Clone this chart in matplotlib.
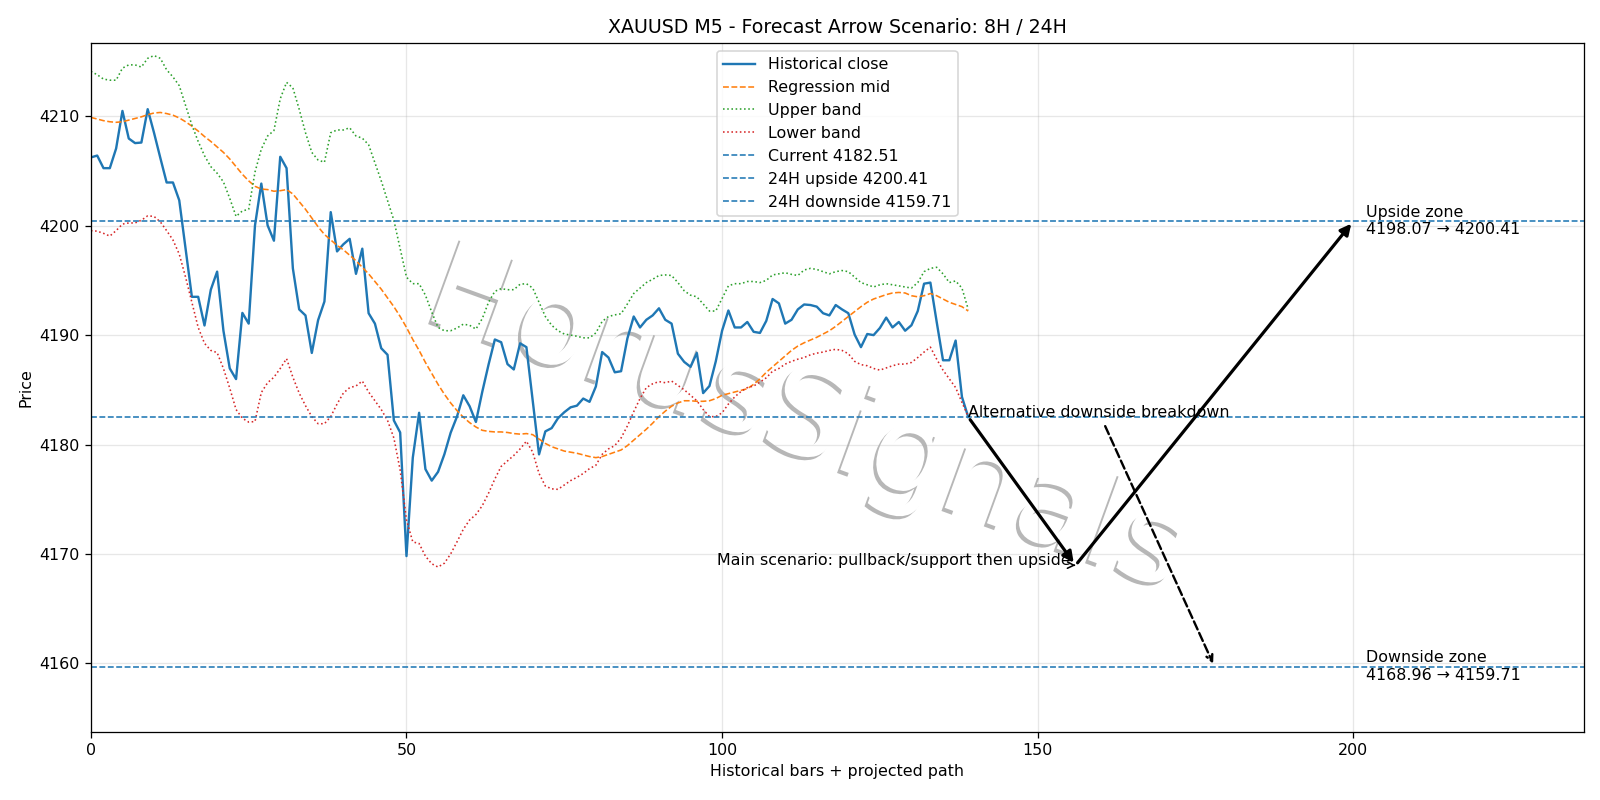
import matplotlib
matplotlib.use("Agg")
import matplotlib.pyplot as plt
import matplotlib.patheffects as pe
import numpy as np

# historical M5 closes (bars 0..139)
close = [4206.24, 4206.41, 4205.26, 4205.26, 4207.06, 4210.49, 4207.97, 4207.55, 4207.6, 4210.65,
         4208.5, 4206.2, 4203.95, 4203.95, 4202.32, 4197.9, 4193.5, 4193.5, 4190.88, 4194.15,
         4195.8, 4190.4, 4186.96, 4185.98, 4192.03, 4191.05, 4200.03, 4203.85, 4200.03, 4198.63,
         4206.3, 4205.26, 4196.1, 4192.35, 4191.8, 4188.37, 4191.37, 4193.07, 4201.24, 4197.65,
         4198.3, 4198.8, 4195.6, 4197.9, 4192.0, 4191.05, 4188.8, 4188.2, 4182.2, 4181.1,
         4169.8, 4178.8, 4182.9, 4177.75, 4176.7, 4177.5, 4179.1, 4181.08, 4182.55, 4184.5,
         4183.5, 4182.06, 4184.8, 4187.3, 4189.6, 4189.35, 4187.35, 4186.86, 4189.25, 4188.9,
         4184.0, 4179.1, 4181.2, 4181.5, 4182.4, 4182.95, 4183.4, 4183.55, 4184.2, 4183.9,
         4185.3, 4188.45, 4187.95, 4186.6, 4186.7, 4189.7, 4191.7, 4190.7, 4191.4, 4191.8,
         4192.45, 4191.4, 4191.05, 4188.3, 4187.55, 4187.1, 4188.37, 4184.7, 4185.35, 4187.6,
         4190.4, 4192.25, 4190.7, 4190.7, 4191.2, 4190.3, 4190.2, 4191.3, 4193.3, 4192.9,
         4191.05, 4191.4, 4192.35, 4192.8, 4192.75, 4192.6, 4192.0, 4191.8, 4192.75, 4192.35,
         4192.0, 4190.05, 4188.9, 4190.1, 4190.0, 4190.65, 4191.6, 4190.7, 4191.2, 4190.4,
         4190.9, 4192.2, 4194.7, 4194.8, 4191.2, 4187.7, 4187.7, 4189.5, 4184.35, 4182.51]

mid = [4209.9, 4209.75, 4209.6, 4209.5, 4209.45, 4209.5, 4209.65, 4209.8, 4209.95, 4210.15,
       4210.3, 4210.35, 4210.25, 4210.1, 4209.85, 4209.5, 4209.1, 4208.65, 4208.15, 4207.7,
       4207.2, 4206.7, 4206.1, 4205.4, 4204.7, 4204.1, 4203.6, 4203.35, 4203.3, 4203.15,
       4203.2, 4203.3, 4202.9, 4202.2, 4201.5, 4200.7, 4199.9, 4199.2, 4198.7, 4198.2,
       4197.8, 4197.3, 4196.8, 4196.2, 4195.6, 4194.9, 4194.2, 4193.4, 4192.6, 4191.7,
       4190.7, 4189.6, 4188.6, 4187.5, 4186.5, 4185.5, 4184.6, 4183.8, 4183.1, 4182.5,
       4182.0, 4181.6, 4181.3, 4181.2, 4181.15, 4181.15, 4181.1, 4181.0, 4180.95, 4181.0,
       4180.9, 4180.5, 4180.1, 4179.8, 4179.6, 4179.4, 4179.3, 4179.2, 4179.05, 4178.9,
       4178.8, 4178.9, 4179.1, 4179.3, 4179.5, 4179.9, 4180.4, 4180.9, 4181.4, 4181.95,
       4182.55, 4183.05, 4183.5, 4183.8, 4184.0, 4184.0, 4183.95, 4183.95, 4184.0, 4184.2,
       4184.5, 4184.65, 4184.8, 4184.95, 4185.1, 4185.5, 4186.0, 4186.6, 4187.1, 4187.6,
       4188.1, 4188.6, 4189.0, 4189.3, 4189.55, 4189.8, 4190.1, 4190.4, 4190.8, 4191.25,
       4191.7, 4192.15, 4192.6, 4193.0, 4193.3, 4193.5, 4193.7, 4193.85, 4193.9, 4193.85,
       4193.6, 4193.5, 4193.6, 4193.8, 4193.6, 4193.3, 4193.0, 4192.8, 4192.6, 4192.2]

upper = [4214.1, 4213.8, 4213.4, 4213.3, 4213.3, 4214.4, 4214.7, 4214.7, 4214.5, 4215.3,
         4215.55, 4215.3, 4214.25, 4213.6, 4212.8, 4211.0, 4209.2, 4207.7, 4206.4, 4205.4,
         4204.8, 4204.0, 4202.5, 4200.85, 4201.35, 4201.5, 4204.9, 4207.0, 4208.2, 4208.7,
         4211.6, 4213.1, 4212.6, 4210.65, 4208.5, 4206.7, 4206.0, 4205.8, 4208.5, 4208.75,
         4208.75, 4208.95, 4208.2, 4208.0, 4207.4, 4205.75, 4204.1, 4202.3, 4200.5, 4197.9,
         4195.3, 4194.7, 4194.7, 4193.65, 4192.1, 4190.7, 4190.4, 4190.4, 4190.65, 4191.0,
         4190.9, 4190.55, 4191.5, 4193.0, 4194.0, 4194.25, 4194.15, 4194.15, 4194.65, 4194.7,
         4194.3, 4193.0, 4191.7, 4190.9, 4190.4, 4190.1, 4190.0, 4189.9, 4189.75, 4189.75,
         4190.2, 4191.25, 4191.7, 4191.85, 4191.95, 4192.85, 4193.8, 4194.3, 4194.8, 4195.1,
         4195.45, 4195.5, 4195.45, 4194.8, 4194.05, 4193.65, 4193.5, 4192.85, 4192.2, 4192.2,
         4193.35, 4194.5, 4194.7, 4194.7, 4194.9, 4194.9, 4194.8, 4195.0, 4195.5, 4195.6,
         4195.7, 4195.55, 4195.45, 4195.95, 4196.1, 4196.0, 4195.8, 4195.6, 4195.8, 4195.9,
         4195.8, 4195.3, 4194.8, 4194.6, 4194.4, 4194.6, 4194.7, 4194.6, 4194.5, 4194.4,
         4194.3, 4194.8, 4195.8, 4196.1, 4196.2, 4195.6, 4194.8, 4194.95, 4194.3, 4192.35]

lower = [4199.55, 4199.5, 4199.3, 4199.05, 4199.55, 4200.15, 4200.25, 4200.25, 4200.5, 4200.9,
         4200.85, 4200.35, 4199.55, 4198.7, 4197.4, 4195.3, 4193.0, 4190.7, 4189.25, 4188.6,
         4188.4, 4186.95, 4185.15, 4183.2, 4182.4, 4182.05, 4182.1, 4184.75, 4185.65, 4186.15,
         4186.95, 4187.85, 4186.15, 4184.7, 4183.55, 4182.55, 4181.9, 4181.9, 4182.55, 4183.7,
         4184.7, 4185.2, 4185.35, 4185.8, 4184.8, 4184.0, 4183.2, 4182.2, 4180.6, 4177.65,
         4173.1, 4171.1, 4170.95, 4169.8, 4169.1, 4168.8, 4169.15, 4170.0, 4171.1, 4172.25,
         4173.1, 4173.6, 4174.4, 4175.55, 4176.85, 4178.0, 4178.5, 4179.0, 4179.6, 4180.3,
         4179.3, 4177.35, 4176.2, 4175.95, 4175.9, 4176.3, 4176.7, 4177.0, 4177.35, 4177.8,
         4178.1, 4179.1, 4179.6, 4179.9, 4180.6, 4181.7, 4183.0, 4184.2, 4185.2, 4185.55,
         4185.75, 4185.65, 4185.8, 4185.4, 4185.0, 4184.5, 4184.0, 4183.2, 4182.55, 4182.55,
         4182.9, 4183.7, 4184.35, 4184.85, 4185.2, 4185.35, 4185.7, 4186.1, 4186.7, 4186.95,
         4187.35, 4187.6, 4187.8, 4187.95, 4188.2, 4188.35, 4188.45, 4188.6, 4188.7, 4188.6,
         4188.3, 4187.6, 4187.3, 4187.2, 4186.95, 4186.8, 4187.0, 4187.2, 4187.35, 4187.35,
         4187.5, 4187.95, 4188.45, 4188.9, 4187.8, 4186.8, 4186.0, 4185.2, 4183.85, 4182.55]

current = 4182.51
up_24h = 4200.41
down_24h = 4159.71
up_8h = 4198.07
down_8h = 4168.96

# projected main path: now -> pullback -> upside target
path_x = [139, 156, 200]
path_y = [current, down_8h, up_24h]
alt_x = 178

bars = np.arange(len(close))

fig, ax = plt.subplots(figsize=(14, 7), dpi=1600 / 14)
fig.subplots_adjust(left=0.0568, right=0.9898, top=0.9464, bottom=0.0855)

ax.plot(bars, close, color="C0", lw=1.5, label="Historical close")
ax.plot(bars, mid, "--", color="C1", lw=1.0, label="Regression mid")
ax.plot(bars, upper, ":", color="C2", lw=1.0, label="Upper band")
ax.plot(bars, lower, ":", color="C3", lw=1.0, label="Lower band")
ax.axhline(current, ls="--", lw=1.0, color="C0", label=f"Current {current:.2f}")
ax.axhline(up_24h, ls="--", lw=1.0, color="C0", label=f"24H upside {up_24h:.2f}")
ax.axhline(down_24h, ls="--", lw=1.0, color="C0", label=f"24H downside {down_24h:.2f}")

arrow_kw = dict(arrowstyle="-|>", lw=2.0, color="black", mutation_scale=14)
ax.annotate("", xy=(path_x[1], path_y[1]), xytext=(path_x[0], path_y[0]), arrowprops=arrow_kw)
ax.annotate("", xy=(path_x[2], path_y[2]), xytext=(path_x[1], path_y[1]), arrowprops=arrow_kw)

ax.annotate("Main scenario: pullback/support then upside", xy=(path_x[1], down_8h),
            xytext=(155.3, down_8h), ha="right",
            arrowprops=dict(arrowstyle="->", color="black", lw=1.0))
ax.annotate("Alternative downside breakdown", xy=(alt_x, down_24h),
            xytext=(path_x[0], current),
            arrowprops=dict(arrowstyle="->", color="black", lw=1.5, ls="--"))

ax.text(202, up_24h, f"Upside zone\n{up_8h:.2f} \u2192 {up_24h:.2f}", va="center")
ax.text(202, down_24h, f"Downside zone\n{down_8h:.2f} \u2192 {down_24h:.2f}", va="center")

# watermark, white text with a soft shadow rim, behind the data
ax.text(0.479, 0.45, "HorusSignals", transform=ax.transAxes, ha="center", va="center",
        rotation=-20, fontsize=77, color="white", zorder=1,
        path_effects=[pe.withSimplePatchShadow(offset=(-2, -2), alpha=0.4)])

ax.set_xlim(0, 236.5)
ax.set_ylim(4153.76, 4216.71)
ax.set_title("XAUUSD M5 - Forecast Arrow Scenario: 8H / 24H")
ax.set_xlabel("Historical bars + projected path")
ax.set_ylabel("Price")
ax.grid(True, alpha=0.3)
ax.legend(loc="upper center")

fig.savefig("out.png", dpi=fig.dpi)
